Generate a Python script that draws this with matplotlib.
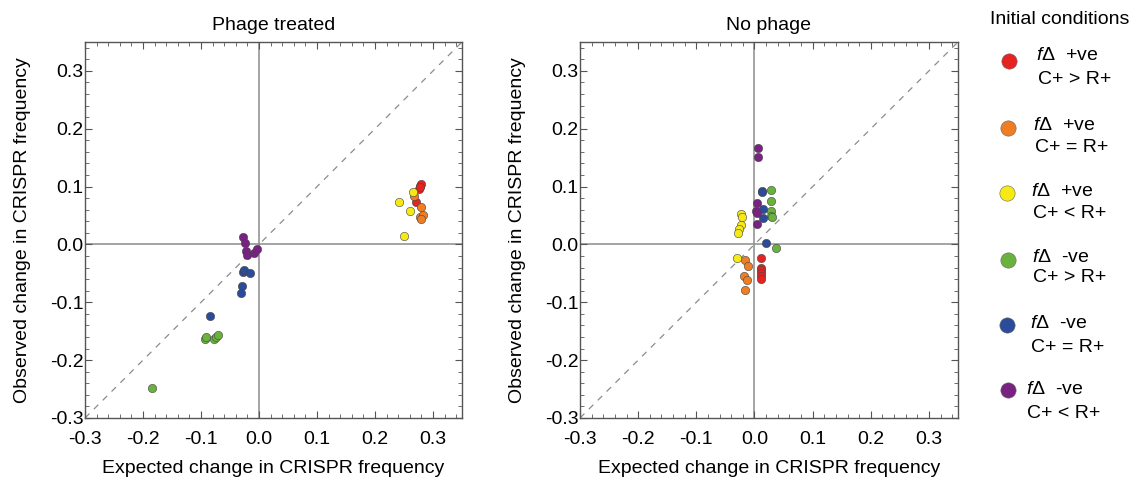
import numpy as np
import matplotlib.pyplot as plt
from matplotlib.ticker import MultipleLocator, FormatStrFormatter

plt.rcParams['font.family'] = ['Liberation Sans', 'DejaVu Sans']
plt.rcParams['mathtext.fontset'] = 'custom'
plt.rcParams['mathtext.it'] = 'Liberation Sans:italic'
plt.rcParams['mathtext.rm'] = 'Liberation Sans'

# Conditions (order: red, orange, yellow, green, blue, purple)
sign_labels = ["+ve", "+ve", "+ve", "-ve", "-ve", "-ve"]
ratio_labels = ["C+ > R+", "C+ = R+", "C+ < R+", "C+ > R+", "C+ = R+", "C+ < R+"]
colours = ["#e52421", "#ef7d23", "#f6e915", "#6ab23e", "#2b4c9b", "#782281"]

# Phage treated panel
phage_x = [
    [0.277, 0.279, 0.275, 0.277, 0.270],
    [0.268, 0.280, 0.277, 0.283, 0.279],
    [0.265, 0.242, 0.260, 0.250],
    [-0.093, -0.092, -0.078, -0.074, -0.070, -0.184],
    [-0.028, -0.026, -0.016, -0.029, -0.031, -0.085],
    [-0.027, -0.024, -0.023, -0.020, -0.009, -0.004],
]
phage_y = [
    [0.101, 0.104, 0.096, 0.099, 0.074],
    [0.083, 0.065, 0.048, 0.051, 0.044],
    [0.090, 0.074, 0.058, 0.015],
    [-0.163, -0.160, -0.163, -0.160, -0.156, -0.249],
    [-0.047, -0.044, -0.049, -0.071, -0.084, -0.124],
    [0.013, 0.003, -0.012, -0.019, -0.015, -0.007],
]

# No phage panel
nophage_x = [
    [0.011, 0.011, 0.011, 0.011, 0.011, 0.011],
    [-0.017, -0.011, -0.018, -0.013, -0.017],
    [-0.024, -0.022, -0.024, -0.026, -0.028, -0.030],
    [0.028, 0.028, 0.028, 0.029, 0.030, 0.037],
    [0.013, 0.013, 0.014, 0.014, 0.019],
    [0.006, 0.006, 0.005, 0.003, 0.004, 0.005],
]
nophage_y = [
    [-0.023, -0.040, -0.045, -0.049, -0.054, -0.059],
    [-0.027, -0.037, -0.055, -0.061, -0.079],
    [0.052, 0.047, 0.034, 0.027, 0.020, -0.023],
    [0.095, 0.075, 0.058, 0.050, 0.047, -0.006],
    [0.092, 0.090, 0.062, 0.045, 0.003],
    [0.166, 0.152, 0.072, 0.058, 0.054, 0.035],
]

panel_titles = ["Phage treated", "No phage"]
xlabel = "Expected change in CRISPR frequency"
ylabel = "Observed change in CRISPR frequency"

fig = plt.figure(figsize=(11.32, 4.79), dpi=100)
ax1 = fig.add_axes([85 / 1132, 1 - 418 / 479, 377 / 1132, 376 / 479])
ax2 = fig.add_axes([580 / 1132, 1 - 418 / 479, 378 / 1132, 376 / 479])

for ax, title, xs, ys in zip([ax1, ax2], panel_titles, [phage_x, nophage_x], [phage_y, nophage_y]):
    ax.axhline(0, color="#8c8c8c", lw=1.1, zorder=1)
    ax.axvline(0, color="#8c8c8c", lw=1.1, zorder=1)
    ax.plot([-0.3, 0.35], [-0.3, 0.35], ls=(0, (5, 5)), color="#8c8c8c", lw=0.9, zorder=1)
    for i in range(len(colours)):
        ax.scatter(xs[i], ys[i], s=36, color=colours[i], edgecolor="#444444", linewidth=0.4, zorder=3)
    ax.set_xlim(-0.3, 0.35)
    ax.set_ylim(-0.3, 0.35)
    ax.xaxis.set_major_locator(MultipleLocator(0.1))
    ax.yaxis.set_major_locator(MultipleLocator(0.1))
    ax.xaxis.set_minor_locator(MultipleLocator(0.02))
    ax.yaxis.set_minor_locator(MultipleLocator(0.02))
    ax.xaxis.set_major_formatter(FormatStrFormatter("%.1f"))
    ax.yaxis.set_major_formatter(FormatStrFormatter("%.1f"))
    ax.tick_params(which="both", direction="in", top=True, right=True, color="#555555", labelsize=14)
    ax.tick_params(which="major", length=5, width=0.8)
    ax.tick_params(which="minor", length=3, width=0.6)
    ax.tick_params(axis="x", which="major", pad=9)
    ax.tick_params(axis="y", which="major", pad=1)
    for sp in ax.spines.values():
        sp.set_color("#555555")
        sp.set_linewidth(1.0)
    ax.set_title(title, fontsize=14, pad=9)
    ax.set_xlabel(xlabel, fontsize=14, labelpad=9)
    ax.set_ylabel(ylabel, fontsize=14, labelpad=14)

# Legend drawn by hand
fig.text(1060 / 1132, 1 - 20 / 479, "Initial conditions", fontsize=14, ha="center", va="center")
marker_x = [1009, 1008, 1007, 1008, 1007, 1008]
marker_y = [61, 128, 193, 260, 325, 390]
line1_x = [1036, 1033, 1031, 1032, 1030, 1026]
line1_y = [55, 126, 192, 257, 323, 390]
line2_x = [1038, 1035, 1033, 1033, 1031, 1027]
line2_y = [79, 148, 213, 278, 347, 413]
for i in range(len(colours)):
    fig.add_artist(plt.Line2D([marker_x[i] / 1132], [1 - marker_y[i] / 479], marker="o", markersize=11,
                              color=colours[i], markeredgecolor="#666666", markeredgewidth=0.4,
                              transform=fig.transFigure))
    fig.text(line1_x[i] / 1132, 1 - line1_y[i] / 479, r"$f$Δ  " + sign_labels[i], fontsize=14,
             ha="left", va="center")
    fig.text(line2_x[i] / 1132, 1 - line2_y[i] / 479, ratio_labels[i], fontsize=14, ha="left", va="center")

fig.savefig("out.png", dpi=100)
